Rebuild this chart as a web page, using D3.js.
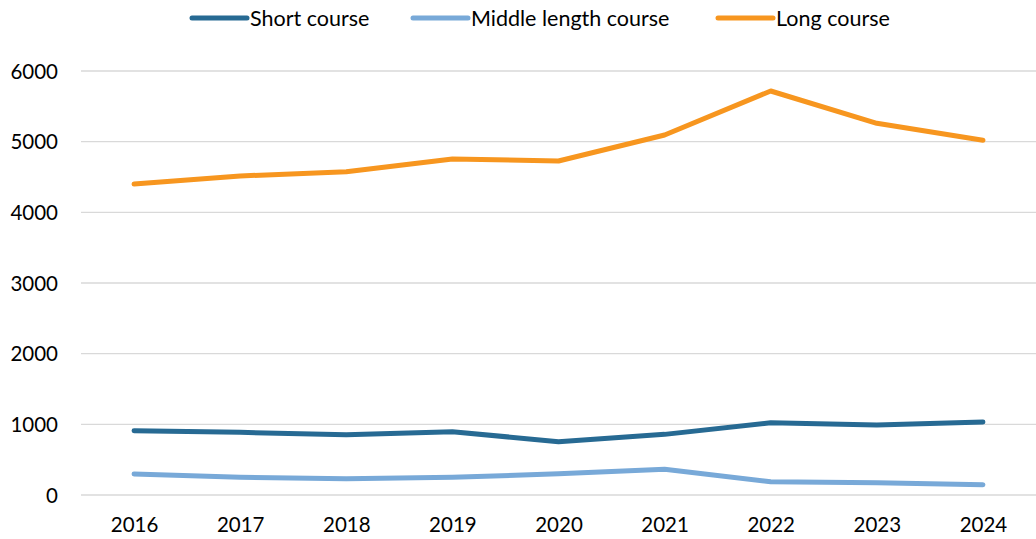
<!DOCTYPE html>
<html>
<head>
<meta charset="utf-8">
<script src="https://cdn.jsdelivr.net/npm/d3@7"></script>
<style>
  body { margin: 0; background: #fff; }
  text { font-family: Lato, "Open Sans", sans-serif; fill: #000; }
</style>
</head>
<body>
<div id="chart"></div>
<script>
var years = ["2016", "2017", "2018", "2019", "2020", "2021", "2022", "2023", "2024"];
var shortCourse = [910, 887, 853, 896, 754, 858, 1023, 990, 1033];
var middleCourse = [297, 250, 231, 250, 301, 364, 188, 174, 146];
var longCourse = [4400, 4514, 4575, 4755, 4726, 5094, 5717, 5260, 5019];
var seriesNames = ["Short course", "Middle length course", "Long course"];
var yTicks = [0, 1000, 2000, 3000, 4000, 5000, 6000];

var colors = ["#276a93", "#78a9d8", "#f7961f"];
var series = [shortCourse, middleCourse, longCourse];

var W = 1036, H = 539;
var margin = { top: 71, right: 0, bottom: 44, left: 81 };
var width = W - margin.left - margin.right,
    height = H - margin.top - margin.bottom;

var svg = d3.select("#chart").append("svg").attr("width", W).attr("height", H);
var g = svg.append("g").attr("transform", "translate(" + margin.left + "," + margin.top + ")");

var x = d3.scalePoint().domain(years).range([0, width]).padding(0.5);
var y = d3.scaleLinear().domain([0, 6000]).range([height, 0]);

// gridlines
g.append("g").selectAll("line").data(yTicks).enter().append("line")
    .attr("x1", 0).attr("x2", width)
    .attr("y1", function(d) { return y(d); }).attr("y2", function(d) { return y(d); })
    .attr("stroke", "#d9d9d9").attr("stroke-width", 1.3);

// y axis labels
var yAxis = g.append("g").call(d3.axisLeft(y).tickValues(yTicks).tickFormat(d3.format("d")).tickSize(0).tickPadding(23));
yAxis.select(".domain").remove();
yAxis.selectAll("text").style("font-size", "20.5px").attr("dy", "0.35em");

// x axis labels
var xAxis = g.append("g").attr("transform", "translate(0," + height + ")")
    .call(d3.axisBottom(x).tickSize(0).tickPadding(22));
xAxis.select(".domain").remove();
xAxis.selectAll("text").style("font-size", "20.5px");

// lines
var line = d3.line()
    .x(function(d, i) { return x(years[i]); })
    .y(function(d) { return y(d); });

g.selectAll(".series").data(series).enter().append("path")
    .attr("class", "series")
    .attr("d", line)
    .attr("fill", "none")
    .attr("stroke", function(d, i) { return colors[i]; })
    .attr("stroke-width", 5)
    .attr("stroke-linecap", "round")
    .attr("stroke-linejoin", "round");

// legend
var legendX = [192, 413, 718];
var leg = svg.append("g").selectAll("g").data(seriesNames).enter().append("g")
    .attr("transform", function(d, i) { return "translate(" + legendX[i] + ",18)"; });
leg.append("line").attr("x1", 0).attr("x2", 55).attr("y1", 0).attr("y2", 0)
    .attr("stroke", function(d, i) { return colors[i]; })
    .attr("stroke-width", 5).attr("stroke-linecap", "round");
leg.append("text").attr("x", 58).attr("dy", "0.35em")
    .style("font-size", "21.5px")
    .text(function(d) { return d; });
</script>
</body>
</html>
